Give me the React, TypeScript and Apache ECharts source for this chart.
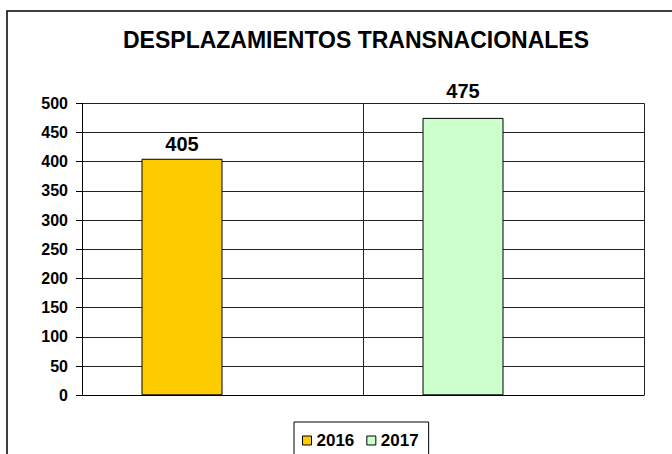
import React, { useEffect, useRef } from "react";
import * as echarts from "echarts";

const categories = ["2016", "2017"];
const seriesNames = ["2016", "2017"];
const values2016 = [405, null];
const values2017 = [null, 475];
const yTicks = { min: 0, max: 500, interval: 50 };
const titleText = "DESPLAZAMIENTOS TRANSNACIONALES";

const FONT = "Arial, 'Liberation Sans', Helvetica, sans-serif";

export default function App() {
  const ref = useRef<HTMLDivElement>(null);
  useEffect(() => {
    if (!ref.current) return;
    const chart = echarts.init(ref.current, null, { renderer: "svg" });
    const labelBase = {
      show: true,
      position: "top",
      distance: 5,
      color: "#000",
      fontSize: 20,
      fontWeight: "bold",
      fontFamily: FONT,
    };
    const barBase = {
      type: "bar",
      barWidth: 81,
      barGap: "0%",
    };
    chart.setOption({
      animation: false,
      backgroundColor: "#fff",
      graphic: [
        {
          type: "rect",
          shape: { x: 7, y: 11, width: 720, height: 520 },
          style: { fill: "none", stroke: "#000", lineWidth: 1.5 },
          silent: true,
        },
        {
          type: "text",
          x: 356,
          y: 40,
          style: {
            text: titleText,
            fill: "#000",
            font: `bold 23px ${FONT}`,
            textAlign: "center",
            textVerticalAlign: "middle",
          },
        },
      ],
      grid: { left: 82, right: 28, top: 103.3, bottom: 58.7, containLabel: false },
      legend: {
        data: seriesNames,
        left: 294,
        top: 422,
        orient: "horizontal",
        icon: "rect",
        itemWidth: 9,
        itemHeight: 9,
        itemGap: 12,
        padding: [10, 10, 30, 8],
        borderColor: "#000",
        borderWidth: 1,
        itemStyle: { borderColor: "#000", borderWidth: 1 },
        textStyle: { color: "#000", fontSize: 17, fontWeight: "bold", fontFamily: FONT },
      },
      xAxis: {
        type: "category",
        data: categories,
        axisLine: { show: true, lineStyle: { color: "#000", width: 1 } },
        axisTick: { show: false },
        axisLabel: { show: false },
        splitLine: { show: true, lineStyle: { color: "#222", width: 1 } },
      },
      yAxis: {
        type: "value",
        min: yTicks.min,
        max: yTicks.max,
        interval: yTicks.interval,
        axisLine: { show: true, lineStyle: { color: "#000", width: 1 } },
        axisTick: { show: true, length: 6, lineStyle: { color: "#000" } },
        axisLabel: {
          color: "#000",
          fontSize: 16,
          fontWeight: "bold",
          fontFamily: FONT,
          margin: 14,
        },
        splitLine: { show: true, lineStyle: { color: "#222", width: 1 } },
      },
      series: [
        {
          ...barBase,
          name: seriesNames[0],
          stack: "a",
          label: { ...labelBase },
          data: values2016.map((v) => (v === null ? "-" : v)),
          itemStyle: { color: "#FFCC00", borderColor: "#000", borderWidth: 1 },
        },
        {
          ...barBase,
          name: seriesNames[1],
          stack: "a",
          label: { ...labelBase, distance: 17 },
          data: values2017.map((v) => (v === null ? "-" : v)),
          itemStyle: { color: "#CCFFCC", borderColor: "#000", borderWidth: 1 },
        },
        {
          ...barBase,
          name: "_spacer",
          stack: "b",
          label: { show: false },
          data: ["-", "-"],
          itemStyle: { color: "transparent" },
        },
      ],
    });
    return () => chart.dispose();
  }, []);
  return (
    <div
      ref={ref}
      style={{ position: "fixed", left: 0, top: 0, width: 672, height: 454 }}
    />
  );
}
